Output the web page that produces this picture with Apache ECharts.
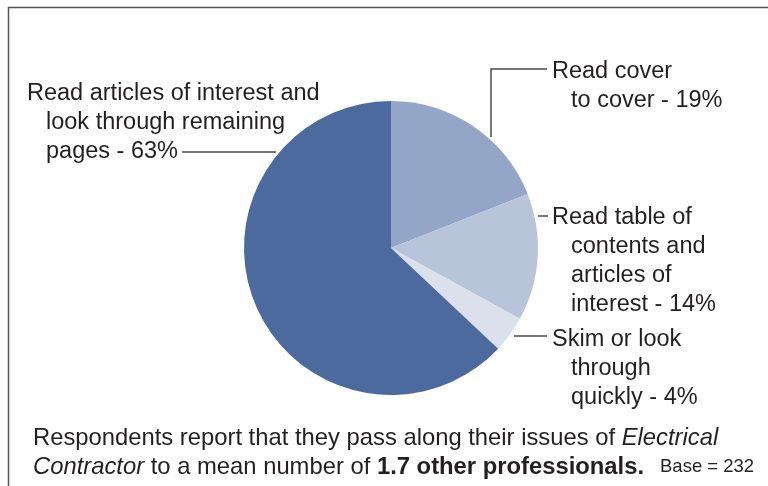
<!DOCTYPE html>
<html>
<head>
<meta charset="utf-8">
<script src="https://cdn.jsdelivr.net/npm/echarts@6/dist/echarts.min.js"></script>
<style>
  html, body { margin: 0; padding: 0; background: #fff; }
  #chart { width: 768px; height: 486px; }
</style>
</head>
<body>
<div id="chart"></div>
<script>
// Reading habits: share of respondents per reading style
const categories = [
  'Read cover\nto cover',
  'Read table of\ncontents and\narticles of\ninterest',
  'Skim or look\nthrough\nquickly',
  'Read articles of interest and\nlook through remaining\npages'
];
const values = [19, 14, 4, 63];
const sliceColors = ['#94a6c7', '#b8c4da', '#dbe0ec', '#4d6a9f'];

// Label placement and leader-line routing for each slice
const labelPos = [
  { x: 552, y: 57, line: [[491, 137], [491, 69], [547, 69]] },
  { x: 552, y: 203, line: [[538, 216], [543, 216], [548, 216]] },
  { x: 552, y: 325, line: [[514, 336], [530, 336], [547, 336]] },
  { x: 27, y: 79, line: [[276, 152], [230, 152], [182, 152]] }
];

const FONT = '"Liberation Sans", Arial, Helvetica, sans-serif';
const TEXT = '#231f20';
const LABEL_SIZE = 23.5;
const NOTE_SIZE = 23.8;

const chart = echarts.init(document.getElementById('chart'), null, { renderer: 'canvas' });

chart.setOption({
  animation: false,
  backgroundColor: '#ffffff',
  graphic: [
    {
      type: 'polyline',
      shape: { points: [[8.5, 492], [8.5, 7.5], [772, 7.5]] },
      style: { stroke: '#555555', lineWidth: 1.5, fill: null },
      silent: true
    },
    {
      type: 'text',
      left: 33,
      top: 424,
      style: {
        text: 'Respondents report that they pass along their issues of {i|Electrical}\n{i|Contractor} to a mean number of {b|1.7 other professionals.}',
        font: NOTE_SIZE + 'px ' + FONT,
        fill: TEXT,
        lineHeight: 29,
        rich: {
          i: { fontStyle: 'italic', fontSize: NOTE_SIZE, fontFamily: FONT, fill: TEXT, lineHeight: 29 },
          b: { fontWeight: 'bold', fontSize: NOTE_SIZE, fontFamily: FONT, fill: TEXT, lineHeight: 29 }
        }
      }
    },
    {
      type: 'text',
      left: 660,
      top: 457,
      style: { text: 'Base = 232', font: '18.5px ' + FONT, fill: TEXT }
    }
  ],
  series: [
    {
      type: 'pie',
      center: [391, 248],
      radius: 147,
      startAngle: 90,
      clockwise: true,
      silent: true,
      emphasis: { disabled: true },
      itemStyle: { borderWidth: 0 },
      data: values.map((v, i) => ({
        name: categories[i],
        value: v,
        itemStyle: { color: sliceColors[i] }
      })),
      label: {
        show: true,
        overflow: 'none',
        color: TEXT,
        fontFamily: FONT,
        fontSize: LABEL_SIZE,
        lineHeight: 29,
        formatter: function (p) {
          const lines = p.name.split('\n');
          lines[lines.length - 1] += ' - ' + p.value + '%';
          return lines.map((t, k) => (k === 0 ? '{a|' + t + '}' : '{b|' + t + '}')).join('\n');
        },
        rich: {
          a: { fontFamily: FONT, fontSize: LABEL_SIZE, lineHeight: 29, color: TEXT },
          b: { fontFamily: FONT, fontSize: LABEL_SIZE, lineHeight: 29, color: TEXT, padding: [0, 0, 0, 19] }
        }
      },
      labelLine: {
        show: true,
        lineStyle: { color: '#4a4a4a', width: 1.5 }
      },
      labelLayout: function (params) {
        const p = labelPos[params.dataIndex];
        return {
          x: p.x,
          y: p.y,
          align: 'left',
          verticalAlign: 'top',
          width: 400,
          labelLinePoints: p.line
        };
      }
    }
  ]
});
</script>
</body>
</html>
